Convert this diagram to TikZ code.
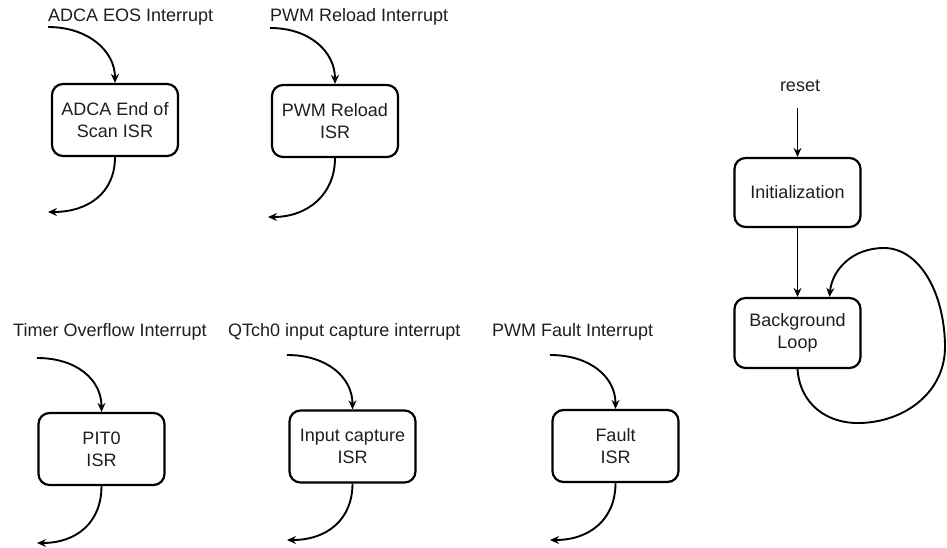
\documentclass[tikz,border=0pt]{standalone}
\usepackage{fontspec}
\setmainfont{Liberation Sans}
\usetikzlibrary{arrows.meta}
\definecolor{txt}{RGB}{30,30,30}
\tikzset{
  isrbox/.style={draw=black, line width=2.2pt, rounded corners=11pt, minimum width=126pt, minimum height=72pt, inner sep=0pt, align=center, font=\fontsize{18}{22}\selectfont, text=txt},
  lbl/.style={inner sep=0pt, font=\fontsize{18}{22}\selectfont, text=txt},
  conn/.style={line width=1.9pt, -{Stealth[length=9pt,width=8pt,inset=3pt]}}
}
\begin{document}
\begin{tikzpicture}[x=1pt,y=-1pt]
\useasboundingbox (0,0) rectangle (947,548);
% boxes
\node[isrbox] (adca) at (115,120) {ADCA End of\\Scan ISR};
\node[isrbox] (pwmr) at (335,121) {PWM Reload\\ISR};
\node[isrbox, minimum height=69pt] (init) at (797.5,192.5) {Initialization};
\node[isrbox, minimum height=70pt] (bg) at (797.5,333) {Background\\Loop};
\node[isrbox] (pit) at (101.5,449) {PIT0\\ISR};
\node[isrbox] (icap) at (352.5,446.5) {Input capture\\ISR};
\node[isrbox] (fault) at (615.5,446) {Fault\\ISR};
% labels
\node[lbl, anchor=base west] (ladca) at (48,21.5) {ADCA EOS Interrupt};
\node[lbl, anchor=base west] (lpwmr) at (270,22) {PWM Reload Interrupt};
\node[lbl, anchor=base] (lreset) at (800,92) {reset};
\node[lbl, anchor=base west] (lpit) at (13,336.5) {Timer Overflow Interrupt};
\node[lbl, anchor=base west] (licap) at (228,336.5) {QTch0 input capture interrupt};
\node[lbl, anchor=base west] (lfault) at (492,336.5) {PWM Fault Interrupt};
% free ends
\coordinate (sadca) at (48,27);
\coordinate (eadca) at (48,212);
\coordinate (spwmr) at (270,28);
\coordinate (epwmr) at (268,217);
\coordinate (sreset) at (797.5,108);
\coordinate (spit) at (37,358);
\coordinate (epit) at (37,543);
\coordinate (sicap) at (287,355);
\coordinate (eicap) at (287,540);
\coordinate (sfault) at (550,355);
\coordinate (efault) at (550,540);
% interrupt arrows in
\draw[conn] (sadca) .. controls +(40,0) and +(0,-32) .. (adca.north);
\draw[conn] (spwmr) .. controls +(40,0) and +(0,-32) .. (pwmr.north);
\draw[conn] (spit) .. controls +(40,0) and +(0,-32) .. (pit.north);
\draw[conn] (sicap) .. controls +(40,0) and +(0,-32) .. (icap.north);
\draw[conn] (sfault) .. controls +(40,0) and +(0,-32) .. (fault.north);
% arrows out
\draw[conn] (adca.south) .. controls +(0,36) and +(40,0) .. (eadca);
\draw[conn] (pwmr.south) .. controls +(0,36) and +(40,0) .. (epwmr);
\draw[conn] (pit.south) .. controls +(0,36) and +(40,0) .. (epit);
\draw[conn] (icap.south) .. controls +(0,36) and +(40,0) .. (eicap);
\draw[conn] (fault.south) .. controls +(0,36) and +(40,0) .. (efault);
% main flow
\draw[conn] (sreset) -- (init.north);
\draw[conn] (init.south) -- (bg.north);
\draw[conn] (bg.south) .. controls (800,405) and (828,424) .. (860,423)
  .. controls (905,422) and (946,392) .. (945,345)
  .. controls (944,290) and (918,248) .. (884,248)
  .. controls (852,248) and (832,270) .. ([xshift=32pt]bg.north);
\end{tikzpicture}
\end{document}
